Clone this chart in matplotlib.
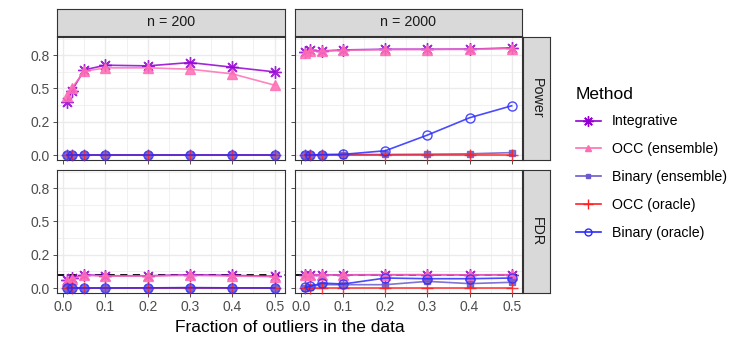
import matplotlib
matplotlib.use("Agg")
import matplotlib.pyplot as plt
from matplotlib.lines import Line2D

# ─── Data ─────────────────────────────────────────────────────────────────────

x_frac = [0.01, 0.02, 0.05, 0.1, 0.2, 0.3, 0.4, 0.5]

methods = ["Integrative", "OCC (ensemble)", "Binary (ensemble)", "OCC (oracle)", "Binary (oracle)"]
col_labels = ["n = 200", "n = 2000"]
row_labels = ["Power", "FDR"]

# Power, n = 200
pow200_integ   = [0.40, 0.48, 0.64, 0.675, 0.67, 0.695, 0.66, 0.625]
pow200_occ_ens = [0.44, 0.50, 0.63, 0.655, 0.655, 0.645, 0.61, 0.525]
pow200_bin_ens = [0.0, 0.0, 0.0, 0.0, 0.0, 0.0, 0.0, 0.0]
pow200_occ_or  = [0.0, 0.0, 0.0, 0.0, 0.0, 0.0, 0.0, 0.0]
pow200_bin_or  = [0.0, 0.0, 0.0, 0.0, 0.0, 0.0, 0.0, 0.0]

# Power, n = 2000
pow2000_integ   = [0.775, 0.787, 0.782, 0.79, 0.795, 0.795, 0.796, 0.805]
pow2000_occ_ens = [0.77, 0.783, 0.78, 0.787, 0.792, 0.793, 0.794, 0.80]
pow2000_bin_ens = [0.0, 0.0, 0.002, 0.003, 0.004, 0.006, 0.009, 0.018]
pow2000_occ_or  = [0.0, 0.0, 0.0, 0.0, 0.0, 0.0, 0.0, 0.0]
pow2000_bin_or  = [0.0, 0.0, 0.003, 0.005, 0.032, 0.15, 0.28, 0.37]

# FDR, n = 200
fdr200_integ   = [0.062, 0.075, 0.10, 0.092, 0.092, 0.10, 0.095, 0.088]
fdr200_occ_ens = [0.05, 0.07, 0.095, 0.09, 0.09, 0.095, 0.09, 0.085]
fdr200_bin_ens = [0.0, 0.0, 0.0, 0.0, 0.001, 0.003, 0.001, 0.001]
fdr200_occ_or  = [0.0, 0.0, 0.0, 0.0, 0.0, 0.0, 0.0, 0.0]
fdr200_bin_or  = [0.0, 0.0, 0.0, 0.0, 0.001, 0.002, 0.001, 0.0]

# FDR, n = 2000
fdr2000_integ   = [0.10, 0.10, 0.099, 0.099, 0.10, 0.10, 0.099, 0.10]
fdr2000_occ_ens = [0.098, 0.098, 0.097, 0.098, 0.098, 0.099, 0.098, 0.098]
fdr2000_bin_ens = [0.0, 0.01, 0.025, 0.025, 0.025, 0.05, 0.033, 0.043]
fdr2000_occ_or  = [0.003, 0.003, 0.003, 0.003, 0.003, 0.003, 0.003, 0.003]
fdr2000_bin_or  = [0.005, 0.012, 0.037, 0.03, 0.075, 0.07, 0.07, 0.075]

fdr_target = 0.1

y_ticks = [0.0, 0.25, 0.5, 0.75]
y_ticklabels = ["0.0", "0.2", "0.5", "0.8"]
x_ticks = [0.0, 0.1, 0.2, 0.3, 0.4, 0.5]
x_ticklabels = ["0.0", "0.1", "0.2", "0.3", "0.4", "0.5"]

panels = [
    [[pow200_integ, pow200_occ_ens, pow200_bin_ens, pow200_occ_or, pow200_bin_or],
     [pow2000_integ, pow2000_occ_ens, pow2000_bin_ens, pow2000_occ_or, pow2000_bin_or]],
    [[fdr200_integ, fdr200_occ_ens, fdr200_bin_ens, fdr200_occ_or, fdr200_bin_or],
     [fdr2000_integ, fdr2000_occ_ens, fdr2000_bin_ens, fdr2000_occ_or, fdr2000_bin_or]],
]

# ─── Style ────────────────────────────────────────────────────────────────────

COLORS  = ["#9400D3", "#FF6EB4", "#6A5ACD", "#FF2020", "#2B2BFF"]
MARKERS = [(8, 2, 0), "^", "s", "+", "o"]
MFACE   = [None, None, None, None, "none"]
MSIZE   = [9, 6.5, 5, 9, 6.5]

GRID  = "#EBEBEB"
FRAME = "#333333"
STRIP = "#D9D9D9"

plt.rcParams.update({
    "font.family": ["Liberation Sans", "DejaVu Sans"],
    "figure.facecolor": "white",
})

W, H = 747, 345
fig = plt.figure(figsize=(W / 100, H / 100), dpi=100)


def px_axes(x0, y0, x1, y1):
    return fig.add_axes([x0 / W, (H - y1) / H, (x1 - x0) / W, (y1 - y0) / H])


col_x = [(57, 285), (295, 522)]
row_y = [(37, 160), (170, 293)]

for r in range(2):
    for c in range(2):
        x0, x1 = col_x[c]
        y0, y1 = row_y[r]
        ax = px_axes(x0, y0, x1, y1)
        ax.set_xlim(-0.0145, 0.5245)
        ax.set_ylim(-0.0375, 0.887)

        for v in [0.05, 0.15, 0.25, 0.35, 0.45]:
            ax.axvline(v, color=GRID, lw=0.5, zorder=0)
        for v in [0.125, 0.375, 0.625, 0.875]:
            ax.axhline(v, color=GRID, lw=0.5, zorder=0)
        for v in x_ticks:
            ax.axvline(v, color=GRID, lw=1.0, zorder=0)
        for v in y_ticks:
            ax.axhline(v, color=GRID, lw=1.0, zorder=0)

        if r == 1:
            ax.axhline(fdr_target, color="black", lw=1.3, ls=(0, (4, 3)), zorder=1)

        for k in range(len(methods)):
            ax.plot(x_frac, panels[r][c][k], color=COLORS[k], lw=1.2, alpha=0.85,
                    marker=MARKERS[k], markersize=MSIZE[k],
                    markerfacecolor=MFACE[k] if MFACE[k] else COLORS[k],
                    markeredgecolor=COLORS[k], markeredgewidth=1.0,
                    zorder=2 + k, clip_on=False)

        ax.set_xticks(x_ticks)
        ax.set_yticks(y_ticks)
        ax.tick_params(length=3, width=0.6, color=FRAME, labelsize=10, labelcolor="#4D4D4D", pad=2)
        if c == 0:
            ax.set_yticklabels(y_ticklabels)
        else:
            ax.set_yticklabels([])
        if r == 1:
            ax.set_xticklabels(x_ticklabels)
        else:
            ax.set_xticklabels([])
        for s in ax.spines.values():
            s.set_color(FRAME)
            s.set_linewidth(0.8)
        ax.set_facecolor("white")

# strips on top
for c in range(2):
    x0, x1 = col_x[c]
    sax = px_axes(x0, 9, x1, 36)
    sax.set_xticks([]); sax.set_yticks([])
    sax.set_facecolor(STRIP)
    for s in sax.spines.values():
        s.set_color(FRAME); s.set_linewidth(0.8)
    sax.text(0.5, 0.5, col_labels[c], ha="center", va="center", fontsize=10.3, color="#1A1A1A",
             transform=sax.transAxes)

# strips on right
for r in range(2):
    y0, y1 = row_y[r]
    sax = px_axes(523, y0, 550, y1)
    sax.set_xticks([]); sax.set_yticks([])
    sax.set_facecolor(STRIP)
    for s in sax.spines.values():
        s.set_color(FRAME); s.set_linewidth(0.8)
    sax.text(0.5, 0.5, row_labels[r], ha="center", va="center", fontsize=10.3, color="#1A1A1A",
             rotation=-90, transform=sax.transAxes)

fig.text(290 / W, (H - 327) / H, "Fraction of outliers in the data", ha="center", va="center",
         fontsize=12.5, color="black")

handles = [Line2D([0], [0], color=COLORS[k], lw=1.2, marker=MARKERS[k], markersize=MSIZE[k] - 1.5,
                  markerfacecolor=MFACE[k] if MFACE[k] else COLORS[k], markeredgecolor=COLORS[k])
           for k in range(len(methods))]
leg = fig.legend(handles, methods, loc="upper left", bbox_to_anchor=(576 / W, (H - 87) / H),
                 frameon=False, title="Method", title_fontsize=12.5, fontsize=10.2,
                 handlelength=1.75, handletextpad=0.8, labelspacing=0.98, alignment="left",
                 borderaxespad=0, borderpad=0)
leg._legend_box.sep = 9

fig.savefig("out.png", dpi=100)
